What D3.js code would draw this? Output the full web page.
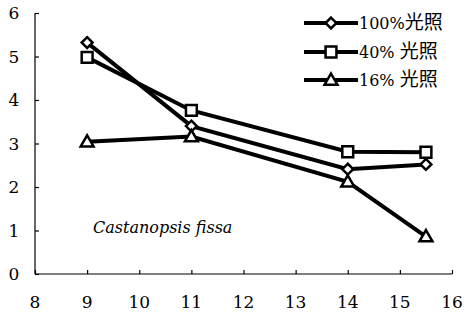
<!DOCTYPE html>
<html>
<head>
<meta charset="utf-8">
<script src="https://cdn.jsdelivr.net/npm/d3@7"></script>
<style>
  body { margin: 0; background: #fff; }
</style>
</head>
<body>
<div id="chart"></div>
<script>
// values
let xValues = [9, 11, 14, 15.5];
let full = [5.32, 3.40, 2.41, 2.52];     // 100% 光照
let forty = [4.98, 3.76, 2.81, 2.80];    // 40% 光照
let sixteen = [3.04, 3.16, 2.12, 0.86];  // 16% 光照
let seriesPct = ["100%", "40% ", "16% "];
let seriesUnit = "光照";
let xTicks = [8, 9, 10, 11, 12, 13, 14, 15, 16];
let yTicks = [0, 1, 2, 3, 4, 5, 6];

let font = "DejaVu Serif, Liberation Serif, serif";

let width = 475, height = 314;
let svg = d3.select("#chart").append("svg")
  .attr("width", width)
  .attr("height", height)
  .style("font-family", font);

let x = d3.scaleLinear().domain([8, 16]).range([35, 452]);
let y = d3.scaleLinear().domain([0, 6]).range([274, 13]);

// axes, ticks pointing inward
let xAxis = svg.append("g")
  .attr("transform", "translate(0," + y(0) + ")")
  .call(d3.axisTop(x).tickValues(xTicks).tickSize(4).tickFormat(""));
xAxis.select(".domain").attr("d", "M" + x(8) + ",0H" + x(16));
xAxis.selectAll("line, path").attr("stroke", "#000").attr("stroke-width", 1.2);

let yAxis = svg.append("g")
  .attr("transform", "translate(" + x(8) + ",0)")
  .call(d3.axisRight(y).tickValues(yTicks).tickSize(4).tickFormat(""));
yAxis.select(".domain").attr("d", "M0," + y(6) + "V" + y(0));
yAxis.selectAll("line, path").attr("stroke", "#000").attr("stroke-width", 1.2);

svg.selectAll(".xlab").data(xTicks).enter().append("text")
  .attr("x", d => x(d))
  .attr("y", 308)
  .attr("text-anchor", "middle")
  .style("font-family", font)
  .attr("font-size", 17)
  .text(d => d);

svg.selectAll(".ylab").data(yTicks).enter().append("text")
  .attr("x", 14)
  .attr("y", d => y(d) + 6)
  .attr("text-anchor", "middle")
  .style("font-family", font)
  .attr("font-size", 17)
  .text(d => d);

let line = d3.line()
  .x(d => x(d[0]))
  .y(d => y(d[1]));

let symbols = [
  d3.symbol().type(d3.symbolDiamond2).size(75),
  d3.symbol().type(d3.symbolSquare2).size(150),
  d3.symbol().type(d3.symbolTriangle2).size(120)
];
let allSeries = [full, forty, sixteen];

allSeries.forEach(function(vals, i) {
  let pts = xValues.map((xv, j) => [xv, vals[j]]);
  svg.append("path")
    .attr("d", line(pts))
    .attr("fill", "none")
    .attr("stroke", "#000")
    .attr("stroke-width", 4);
});

allSeries.forEach(function(vals, i) {
  let pts = xValues.map((xv, j) => [xv, vals[j]]);
  svg.selectAll(null).data(pts).enter().append("path")
    .attr("d", symbols[i])
    .attr("transform", d => "translate(" + x(d[0]) + "," + (y(d[1]) + (i == 2 ? 1 : 0)) + ")")
    .attr("fill", "#fff")
    .attr("stroke", "#000")
    .attr("stroke-width", 2.5);
});

// legend
let legend = svg.append("g");
let legY = [23, 52, 80];
seriesPct.forEach(function(pct, i) {
  let g = legend.append("g").attr("transform", "translate(0," + legY[i] + ")");
  g.append("line")
    .attr("x1", 304).attr("x2", 358)
    .attr("stroke", "#000").attr("stroke-width", 4);
  g.append("path")
    .attr("d", symbols[i])
    .attr("transform", "translate(331," + (i == 2 ? 1 : 0) + ")")
    .attr("fill", "#fff")
    .attr("stroke", "#000")
    .attr("stroke-width", 2.5);
  let t = g.append("text")
    .attr("x", 359)
    .attr("y", 6)
    .style("font-family", font)
    .style("white-space", "pre")
    .attr("font-size", 16);
  t.append("tspan").text(pct);
  t.append("tspan")
    .attr("font-size", 19)
    .style("font-family", "Noto Sans CJK SC, sans-serif")
    .text(seriesUnit);
});

svg.append("text")
  .attr("x", 93)
  .attr("y", 233)
  .style("font-family", font)
  .attr("font-size", 16)
  .attr("font-style", "italic")
  .text("Castanopsis fissa");
</script>
</body>
</html>
